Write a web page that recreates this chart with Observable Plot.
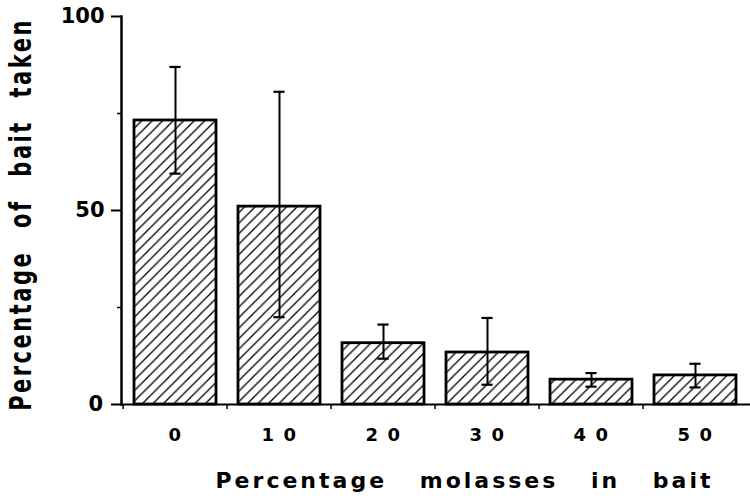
<!DOCTYPE html>
<html><head><meta charset="utf-8">
<script src="https://cdn.jsdelivr.net/npm/d3@7"></script>
<script src="https://cdn.jsdelivr.net/npm/@observablehq/plot@0.6"></script>
<style>
body{margin:0;background:#fff;}
</style></head>
<body><div id="chart"></div>
<script>
const molasses = [0, 10, 20, 30, 40, 50];
const tickLabels = ["0", "1 0", "2 0", "3 0", "4 0", "5 0"];
const baitTaken = [73.2, 51.0, 15.8, 13.4, 6.4, 7.5];
const errLow = [59.5, 22.5, 11.8, 5.1, 4.6, 4.4];
const errHigh = [87.0, 80.6, 20.6, 22.3, 8.1, 10.5];
const yTicks = [0, 50, 100];
const yMinorTicks = [25, 75];
const xTitle = "Percentage molasses in bait";
const yTitle = "Percentage of bait taken";

const data = molasses.map((m, i) => ({m, v: baitTaken[i], lo: errLow[i], hi: errHigh[i]}));
const W = 750, H = 500, ML = 121, MR = 0, MT = 16, MB = 96;
const step = (W - ML - MR) / molasses.length;
const bw = step * 0.79;
const capInset = (bw - 12) / 2;
const font = "'DejaVu Sans', sans-serif";

const plot = Plot.plot({
  width: W, height: H, marginLeft: ML, marginRight: MR, marginTop: MT, marginBottom: MB,
  style: {fontFamily: font, background: "#fff", color: "#000", overflow: "visible"},
  x: {domain: molasses, paddingInner: 0.21, paddingOuter: 0.105, label: null},
  y: {domain: [0, 100], label: null},
  marks: [
    Plot.barY(data, {x: "m", y: "v", fill: "url(#hatch)", stroke: "#000", strokeWidth: 2.8}),
    Plot.ruleX(data, {x: "m", y1: "lo", y2: "hi", stroke: "#000", strokeWidth: 2}),
    Plot.tickY(data, {x: "m", y: "lo", insetLeft: capInset, insetRight: capInset, stroke: "#000", strokeWidth: 2.2}),
    Plot.tickY(data, {x: "m", y: "hi", insetLeft: capInset, insetRight: capInset, stroke: "#000", strokeWidth: 2.2}),
    Plot.axisY({ticks: yTicks, tickSize: 10, tickPadding: 7, fontSize: 21, fontWeight: "bold", label: null, strokeWidth: 2}),
    Plot.axisY({ticks: yMinorTicks, tickSize: 4, tickFormat: () => "", label: null, strokeWidth: 1.5}),
    Plot.axisX({tickSize: 5, tickFormat: () => "", dx: -step / 2, label: null, strokeWidth: 1.5}),
    Plot.axisX({tickSize: 0, tickPadding: 24, tickFormat: d => tickLabels[molasses.indexOf(d)], fontSize: 18, fontWeight: "bold", label: null}),
    Plot.frame({anchor: "left", stroke: "#000", strokeWidth: 2.5}),
    Plot.ruleY([0], {stroke: "#000", strokeWidth: 2.2}),
    Plot.text([xTitle], {text: d => d, frameAnchor: "bottom-left", textAnchor: "start", lineAnchor: "top", dx: 94, dy: 68, fontSize: 22, fontWeight: "bold", fill: "#000"}),
    Plot.text([yTitle], {text: d => d, frameAnchor: "left", textAnchor: "middle", rotate: -90, dx: -100, dy: 4, fontSize: 21, fontWeight: "bold", fill: "#000"})
  ]
});

const svg = d3.select(plot);
const defs = svg.insert("defs", ":first-child");
const pat = defs.append("pattern").attr("id", "hatch").attr("patternUnits", "userSpaceOnUse")
  .attr("width", 10.5).attr("height", 10.5);
pat.append("rect").attr("width", 10.5).attr("height", 10.5).attr("fill", "#fff");
pat.append("path").attr("d", "M-1,11.5L11.5,-1M-3,3L3,-3M7.5,13.5L13.5,7.5")
  .attr("stroke", "#000").attr("stroke-width", 1.3).attr("fill", "none");
svg.selectAll("text").each(function() {
  const s = d3.select(this);
  const txt = this.textContent;
  if (txt === yTitle) {
    s.style("letter-spacing", "2.5px").style("word-spacing", "13px");
    s.attr("transform", (s.attr("transform") || "") + " scale(1,1.45)");
  } else if (txt === xTitle) {
    s.style("letter-spacing", "3px").style("word-spacing", "22px");
  } else if (tickLabels.includes(txt)) {
    s.style("letter-spacing", "1.5px");
  }
});
document.getElementById("chart").appendChild(plot);
</script>
</body></html>
